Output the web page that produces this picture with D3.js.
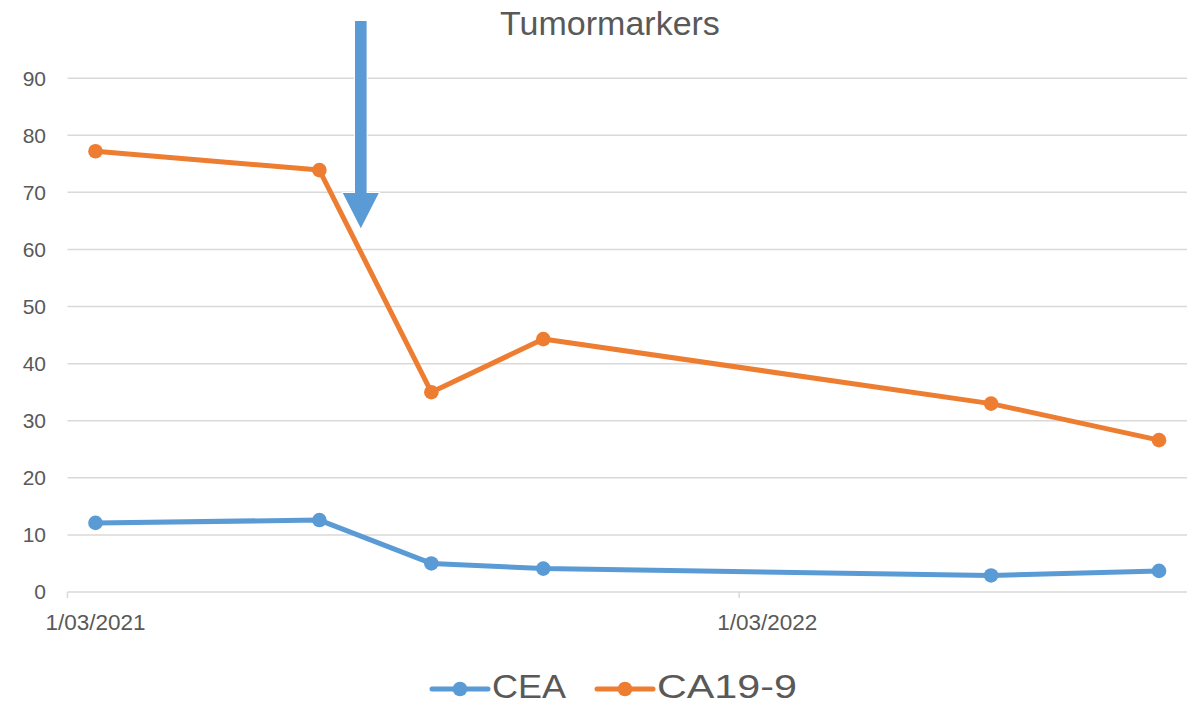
<!DOCTYPE html>
<html>
<head>
<meta charset="utf-8">
<script src="https://cdn.jsdelivr.net/npm/d3@7"></script>
<style>
  html, body { margin: 0; padding: 0; background: #fff; }
  svg { display: block; }
  text { font-family: "Liberation Sans", Arial, sans-serif; fill: #595959; }
</style>
</head>
<body>
<svg id="chart" width="1199" height="706"></svg>
<script>
// ---- data ----
const title = "Tumormarkers";
const dates = ["2021-03", "2021-07", "2021-09", "2021-11", "2022-07", "2022-10"];
const cea = [12.1, 12.6, 5.0, 4.1, 2.9, 3.7];
const ca199 = [77.2, 73.9, 35.0, 44.3, 33.0, 26.6];
const seriesNames = ["CEA", "CA19-9"];
const yTicks = [0, 10, 20, 30, 40, 50, 60, 70, 80, 90];
const xTickDates = ["2021-03", "2022-03"];
const xTickLabels = ["1/03/2021", "1/03/2022"];
const axisStart = "2021-03", axisEnd = "2022-11"; // month slots (exclusive end)
// annotation arrow (month offset from axis start, values)
const arrowMonth = 5.24, arrowTop = 100, arrowHeadBase = 69.9, arrowTip = 63.7;

const colors = ["#5B9BD5", "#ED7D31"];
const parse = d3.timeParse("%Y-%m");

const svg = d3.select("#chart");
const L = 67.5, R = 1187, T = 21.1, B = 592;

const months = d3.timeMonth.range(parse(axisStart), parse(axisEnd));
const x = d3.scaleBand().domain(months.map(d => +d)).range([L, R]).padding(0);
const xm = d3.scaleLinear().domain([0, months.length]).range([L, R]);
const y = d3.scaleLinear().domain([0, 100]).range([B, T]);
const xc = s => x(+parse(s)) + x.bandwidth() / 2;

// gridlines
svg.append("g").selectAll("line").data(yTicks).join("line")
  .attr("x1", L).attr("x2", R)
  .attr("y1", d => y(d)).attr("y2", d => y(d))
  .attr("stroke", "#D9D9D9").attr("stroke-width", 1.5);

// y labels
svg.append("g").selectAll("text").data(yTicks).join("text")
  .attr("x", 46).attr("y", d => y(d)).attr("dy", "0.35em")
  .attr("text-anchor", "end").attr("font-size", 21).text(d => d);

// x ticks and labels
svg.append("g").selectAll("line").data(xTickDates).join("line")
  .attr("x1", d => x(+parse(d))).attr("x2", d => x(+parse(d)))
  .attr("y1", B).attr("y2", B + 6)
  .attr("stroke", "#D9D9D9").attr("stroke-width", 1.5);
svg.append("g").selectAll("text").data(xTickDates).join("text")
  .attr("x", d => xc(d)).attr("y", 630)
  .attr("text-anchor", "middle").attr("font-size", 22.5)
  .text((d, i) => xTickLabels[i]);

// series
const seriesData = [cea, ca199];
const line = d3.line().x((d, i) => xc(dates[i])).y(d => y(d));
seriesData.forEach((vals, si) => {
  svg.append("path").datum(vals)
    .attr("d", line).attr("fill", "none")
    .attr("stroke", colors[si]).attr("stroke-width", 5)
    .attr("stroke-linejoin", "round").attr("stroke-linecap", "round");
  svg.append("g").selectAll("circle").data(vals).join("circle")
    .attr("cx", (d, i) => xc(dates[i])).attr("cy", d => y(d))
    .attr("r", 7.3).attr("fill", colors[si]);
});

// arrow annotation
{
  const ax = xm(arrowMonth);
  const sw = 5.8, hw = 18;
  const p = [
    [ax - sw, y(arrowTop)], [ax + sw, y(arrowTop)], [ax + sw, y(arrowHeadBase)],
    [ax + hw, y(arrowHeadBase)], [ax, y(arrowTip)], [ax - hw, y(arrowHeadBase)],
    [ax - sw, y(arrowHeadBase)]
  ];
  svg.append("path").attr("d", "M" + p.map(q => q.join(",")).join("L") + "Z")
    .attr("fill", "#5B9BD5").attr("stroke", "#fff").attr("stroke-width", 2)
    .attr("paint-order", "stroke");
}

// title
svg.append("text").attr("x", 610).attr("y", 35)
  .attr("text-anchor", "middle").attr("font-size", 34).text(title);

// legend
const legendItems = [
  { name: seriesNames[0], color: colors[0], x0: 432, w: 74 },
  { name: seriesNames[1], color: colors[1], x0: 597, w: 140 }
];
const lg = svg.append("g");
legendItems.forEach(it => {
  lg.append("line").attr("x1", it.x0).attr("x2", it.x0 + 56)
    .attr("y1", 689).attr("y2", 689)
    .attr("stroke", it.color).attr("stroke-width", 5).attr("stroke-linecap", "round");
  lg.append("circle").attr("cx", it.x0 + 28).attr("cy", 689).attr("r", 7.3).attr("fill", it.color);
  lg.append("text").attr("x", it.x0 + 60).attr("y", 698).attr("font-size", 33)
    .attr("textLength", it.w).attr("lengthAdjust", "spacingAndGlyphs").text(it.name);
});
</script>
</body>
</html>
